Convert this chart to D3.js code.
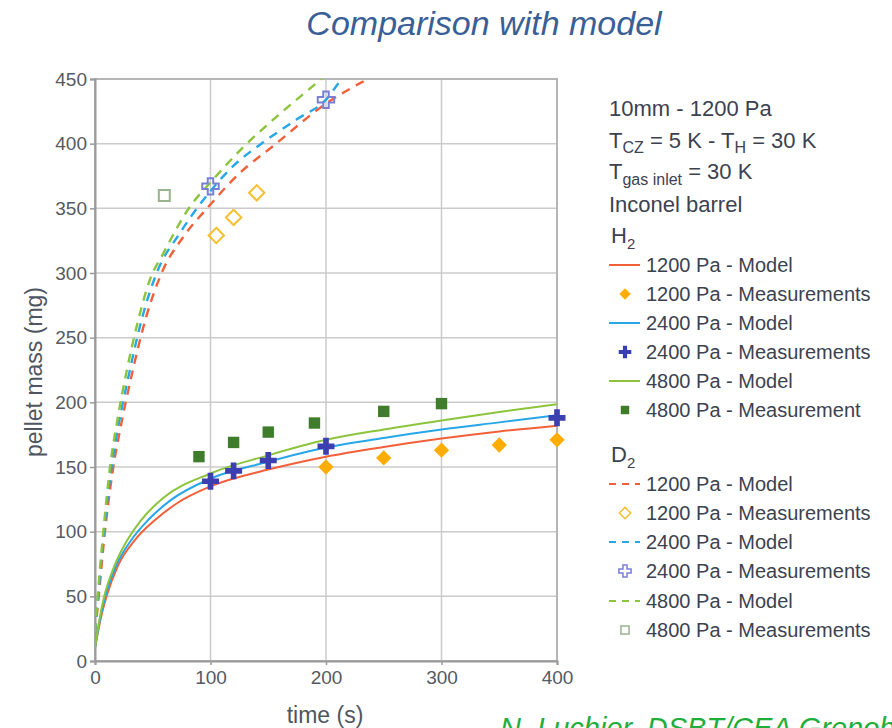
<!DOCTYPE html>
<html>
<head>
<meta charset="utf-8">
<script src="https://cdn.jsdelivr.net/npm/d3@7/dist/d3.min.js"></script>
<style>
  html, body { margin: 0; padding: 0; background: #fff; }
  svg { display: block; font-family: "Liberation Sans", Arial, sans-serif; }
</style>
</head>
<body>
<svg id="chart" width="892" height="728"></svg>
<script>
// ---- data ----
const xTicks = [0, 100, 200, 300, 400];
const yTicks = [0, 50, 100, 150, 200, 250, 300, 350, 400, 450];

// H2 model curves: [time (s), pellet mass (mg)]
const h2Model1200 = [[0,10],[5,33],[10,50],[20,74],[35,94],[52,109],[71,122],[100,135],[150,148],[200,158],[250,165.5],[300,172],[350,177.5],[400,182]];
const h2Model2400 = [[0,10],[4.5,33],[9,50],[18.5,74],[31,93],[46,109],[65,124],[100,141],[150,154],[200,165],[250,172.5],[300,179],[350,184.5],[400,190]];
const h2Model4800 = [[0,10],[4,33],[8,50],[17,74],[27,92],[40,109],[59,126],[100,145],[150,159],[200,171],[250,179],[300,186],[350,192.5],[400,198.5]];

// D2 model curves
const d2Model1200 = [[0,22],[0.7,28],[2.8,46],[8,95],[15,145],[22,180],[31,218],[44,265],[57.7,300],[76.5,328],[98,351],[125,377],[154,398],[200,431],[236,450],[240,452]];
const d2Model2400 = [[0,22],[0.6,28],[2.5,48],[7.5,98],[14,148],[20.5,183],[29,220],[41,266],[53.4,300],[73.6,331],[99.6,363],[120,383],[144,400],[175,419],[200,434],[214,450],[218,453]];
const d2Model4800 = [[0,22],[0.5,29],[2.3,50],[7.2,100],[13,150],[19.3,186],[27.4,224],[37,262],[47.6,295],[59,315],[82,351],[102,372],[128,397],[160,423],[196,450],[200,453]];

// H2 measurements
const h2Meas1200 = [[200,150],[250,157],[300,163],[350,167],[400,171]];
const h2Meas2400 = [[100,139],[120,147],[150,155],[200,166],[400,188]];
const h2Meas4800 = [[90,158],[120,169],[150,177],[190,184],[250,193],[300,199]];

// D2 measurements
const d2Meas1200 = [[105,329],[120,343],[140,362]];
const d2Meas2400 = [[100,367],[200,434]];
const d2Meas4800 = [[60,360]];

const infoLines = ["10mm - 1200 Pa", "T_CZ", "T_gas", "Inconel barrel"];

// ---- layout ----
const svg = d3.select("#chart");
const margin = { left: 95, top: 79, right: 557, bottom: 661 };
const x = d3.scaleLinear().domain([0, 400]).range([margin.left, margin.right]);
const y = d3.scaleLinear().domain([0, 450]).range([margin.bottom, margin.top]);

const textCol = "#3c4250";
const gridCol = "#cbcbcb";

svg.append("rect").attr("width", 892).attr("height", 728).attr("fill", "#fff");

// title
svg.append("text")
  .attr("x", 484).attr("y", 35)
  .attr("text-anchor", "middle")
  .attr("font-size", 34).attr("font-style", "italic")
  .attr("fill", "#3a5f96")
  .text("Comparison with model");

// grid
const grid = svg.append("g");
grid.selectAll("line.v").data(xTicks).join("line")
  .attr("x1", d => x(d)).attr("x2", d => x(d))
  .attr("y1", y(0)).attr("y2", y(450))
  .attr("stroke", gridCol).attr("stroke-width", 1.5);
grid.selectAll("line.h").data(yTicks).join("line")
  .attr("x1", x(0)).attr("x2", x(400))
  .attr("y1", d => y(d)).attr("y2", d => y(d))
  .attr("stroke", gridCol).attr("stroke-width", 1.5);
// frame
svg.append("rect")
  .attr("x", x(0)).attr("y", y(450))
  .attr("width", x(400) - x(0)).attr("height", y(0) - y(450))
  .attr("fill", "none").attr("stroke", "#b5b5b5").attr("stroke-width", 2);

// axes
const xAxis = svg.append("g")
  .attr("transform", `translate(0,${y(0)})`)
  .call(d3.axisBottom(x).tickValues(xTicks).tickSize(4).tickPadding(6));
const yAxis = svg.append("g")
  .attr("transform", `translate(${x(0)},0)`)
  .call(d3.axisLeft(y).tickValues(yTicks).tickSize(5).tickPadding(3));
[xAxis, yAxis].forEach(g => {
  g.select(".domain").attr("stroke", "#9a9a9a").attr("stroke-width", 2);
  g.selectAll(".tick line").attr("stroke", "#9a9a9a").attr("stroke-width", 1.5);
  g.selectAll(".tick text").attr("fill", "#555a63").attr("font-size", 19)
    .attr("font-family", "Liberation Sans, Arial, sans-serif");
});

svg.append("text")
  .attr("x", 325).attr("y", 723)
  .attr("text-anchor", "middle").attr("font-size", 23).attr("fill", "#505562")
  .text("time (s)");
svg.append("text")
  .attr("transform", "translate(42,372) rotate(-90)")
  .attr("text-anchor", "middle").attr("font-size", 23).attr("fill", "#505562")
  .text("pellet mass (mg)");

// ---- series ----
svg.append("clipPath").attr("id", "plot-clip")
  .append("rect")
  .attr("x", x(0)).attr("y", y(450))
  .attr("width", x(400) - x(0)).attr("height", y(0) - y(450));
const plot = svg.append("g").attr("clip-path", "url(#plot-clip)");

const line = d3.line()
  .x(d => x(d[0])).y(d => y(d[1]))
  .curve(d3.curveMonotoneX);

const red = "#f2603a", blue = "#27a6e8", green = "#8cc43c";

const models = [
  { data: d2Model1200, color: red, dash: "9,7", w: 2.4 },
  { data: d2Model2400, color: blue, dash: "9,7", w: 2.4 },
  { data: d2Model4800, color: green, dash: "9,7", w: 2.4 },
  { data: h2Model1200, color: red, dash: null, w: 2 },
  { data: h2Model2400, color: blue, dash: null, w: 2 },
  { data: h2Model4800, color: green, dash: null, w: 2 }
];
models.forEach(m => {
  plot.append("path")
    .datum(m.data)
    .attr("d", line)
    .attr("fill", "none")
    .attr("stroke", m.color)
    .attr("stroke-width", m.w)
    .attr("stroke-dasharray", m.dash);
});

// marker styles
const markers = {
  h2_1200: { type: d3.symbolDiamond2, size: 150, fill: "#ffad00", stroke: "none", sw: 0 },
  h2_2400: { type: d3.symbolCross, size: 160, fill: "#3b3fb0", stroke: "none", sw: 0 },
  h2_4800: { type: d3.symbolSquare, size: 130, fill: "#3f7d2c", stroke: "none", sw: 0 },
  d2_1200: { type: d3.symbolDiamond2, size: 150, fill: "none", stroke: "#f7be2e", sw: 2 },
  d2_2400: { type: d3.symbolCross, size: 150, fill: "none", stroke: "#7a7fd6", sw: 2 },
  d2_4800: { type: d3.symbolSquare, size: 120, fill: "none", stroke: "#98b38e", sw: 2 }
};
function drawPoints(data, key) {
  const m = markers[key];
  svg.append("g").selectAll("path").data(data).join("path")
    .attr("transform", d => `translate(${x(d[0])},${y(d[1])})`)
    .attr("d", d3.symbol().type(m.type).size(m.size))
    .attr("fill", m.fill)
    .attr("stroke", m.stroke)
    .attr("stroke-width", m.sw);
}
drawPoints(h2Meas1200, "h2_1200");
drawPoints(h2Meas2400, "h2_2400");
drawPoints(h2Meas4800, "h2_4800");
drawPoints(d2Meas1200, "d2_1200");
drawPoints(d2Meas2400, "d2_2400");
drawPoints(d2Meas4800, "d2_4800");

// ---- legend / info block ----
const lg = svg.append("g").attr("fill", textCol);
const lx = 609;
lg.append("text").attr("x", lx).attr("y", 116).attr("font-size", 22).text(infoLines[0]);
const t2 = lg.append("text").attr("x", lx).attr("y", 148).attr("font-size", 22);
t2.append("tspan").text("T");
t2.append("tspan").attr("font-size", 16).attr("dy", 5).text("CZ");
t2.append("tspan").attr("dy", -5).text(" = 5 K - T");
t2.append("tspan").attr("font-size", 16).attr("dy", 5).text("H");
t2.append("tspan").attr("dy", -5).text(" = 30 K");
const t3 = lg.append("text").attr("x", lx).attr("y", 179).attr("font-size", 22);
t3.append("tspan").text("T");
t3.append("tspan").attr("font-size", 16).attr("dy", 6).text("gas inlet");
t3.append("tspan").attr("dy", -6).text(" = 30 K");
lg.append("text").attr("x", lx).attr("y", 212).attr("font-size", 22).text(infoLines[3]);

function groupTitle(yy, base) {
  const t = lg.append("text").attr("x", 611).attr("y", yy).attr("font-size", 22);
  t.append("tspan").text(base);
  t.append("tspan").attr("font-size", 15).attr("dy", 6).text("2");
}
groupTitle(243, "H");
groupTitle(462, "D");

const legendItems = [
  { y: 265, kind: "line", color: red, dash: null, label: "1200 Pa - Model" },
  { y: 294, kind: "h2_1200", label: "1200 Pa - Measurements" },
  { y: 323, kind: "line", color: blue, dash: null, label: "2400 Pa - Model" },
  { y: 352, kind: "h2_2400", label: "2400 Pa - Measurements" },
  { y: 381, kind: "line", color: green, dash: null, label: "4800 Pa - Model" },
  { y: 410, kind: "h2_4800", label: "4800 Pa - Measurement" },
  { y: 484, kind: "line", color: red, dash: "7,6", label: "1200 Pa - Model" },
  { y: 513, kind: "d2_1200", label: "1200 Pa - Measurements" },
  { y: 542, kind: "line", color: blue, dash: "7,6", label: "2400 Pa - Model" },
  { y: 571, kind: "d2_2400", label: "2400 Pa - Measurements" },
  { y: 601, kind: "line", color: green, dash: "7,6", label: "4800 Pa - Model" },
  { y: 630, kind: "d2_4800", label: "4800 Pa - Measurements" }
];
legendItems.forEach(it => {
  if (it.kind === "line") {
    svg.append("line")
      .attr("x1", 609).attr("x2", 640).attr("y1", it.y).attr("y2", it.y)
      .attr("stroke", it.color).attr("stroke-width", 2)
      .attr("stroke-dasharray", it.dash);
  } else {
    const m = markers[it.kind];
    svg.append("path")
      .attr("transform", `translate(625,${it.y})`)
      .attr("d", d3.symbol().type(m.type).size(m.size * 0.55))
      .attr("fill", m.fill).attr("stroke", m.stroke).attr("stroke-width", m.sw * 0.75);
  }
  lg.append("text").attr("x", 646).attr("y", it.y + 7).attr("font-size", 20).text(it.label);
});

// author credit
svg.append("text")
  .attr("x", 500).attr("y", 738)
  .attr("font-size", 29).attr("font-style", "italic")
  .attr("fill", "#1fae3c")
  .text("N. Luchier, DSBT/CEA Grenoble");
</script>
</body>
</html>
